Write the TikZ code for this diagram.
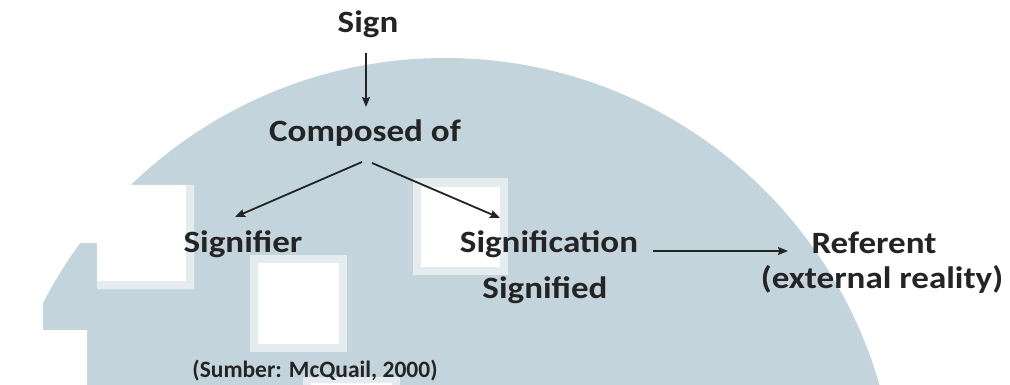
\documentclass[tikz,border=0pt]{standalone}
\usepackage{fontspec}
\setmainfont{Carlito}
\usetikzlibrary{arrows.meta,calc}
\definecolor{wm}{RGB}{195,212,220}
\definecolor{wmrim}{RGB}{228,236,240}
\definecolor{ink}{RGB}{36,36,36}
\newcommand\myxs[1]{\scalebox{1.13}[1]{#1}}
\tikzset{
  lbl/.style={inner sep=0pt, anchor=base, text=ink, font=\bfseries\fontsize{31}{36}\selectfont},
  small/.style={inner sep=0pt, anchor=base, text=ink, font=\bfseries\fontsize{23.5}{27}\selectfont},
  arr/.style={draw=ink, line width=1.8pt, -{Stealth[length=10pt,width=8pt,inset=1.5pt]}}
}
\begin{document}
\begin{tikzpicture}[x=1pt,y=-1pt]
\useasboundingbox (0,0) rectangle (1010,385);
\begin{scope}
  \clip (0,0) rectangle (1010,385);
  \fill[white] (0,0) rectangle (1010,385);
  % watermark dome
  \fill[wm] (445,510) circle[radius=452];
  \fill[white] (0,185) -- (194,185) -- (194,289) -- (97,289) -- (97,243) -- (0,243) -- cycle;
  \fill[wmrim] (186,185) rectangle (194,289);
  \fill[wmrim] (97,281) rectangle (194,289);
  \fill[white] (0,300) -- (43,300) -- (43,330) -- (87,330) -- (87,385) -- (0,385) -- cycle;
  \fill[wmrim] (250,255) rectangle (347,352);
  \fill[white] (258,263) rectangle (339,344);
  \fill[wmrim] (413,178) rectangle (508,275);
  \fill[white] (421,187) rectangle (500,267);
  \fill[wmrim] (303,377) rectangle (400,395);
  \fill[white] (311,383) rectangle (392,395);
\end{scope}
% texts
\node[lbl] (sign) at (368,33) {\myxs{Sign}};
\node[lbl] (comp) at (365,142) {\myxs{Composed of}};
\node[lbl] (sigr) at (243,252) {\myxs{Signifier}};
\node[lbl] (sigc) at (549,252) {\myxs{Signification}};
\node[lbl] (sigd) at (545,298) {\myxs{Signified}};
\node[lbl] (ref) at (874,253) {\myxs{Referent}};
\node[lbl] (ext) at (882,288) {\myxs{(external reality)}};
\node[small] (src) at (315,377) {(Sumber: McQuail, 2000)};
% connectors
\draw[arr] ($(sign.base)+(-2,20)$) -- ($(comp.base)+(1,-35)$);
\draw[arr] ($(comp.base)+(-3,20)$) -- ($(sigr.base)+(-8,-35)$);
\draw[arr] ($(comp.base)+(7,21)$) -- ($(sigc.base)+(-49,-34)$);
\draw[arr] ($(sigc.base)+(104,-1)$) -- ($(ref.base)+(-86,-2)$);
\end{tikzpicture}
\end{document}
